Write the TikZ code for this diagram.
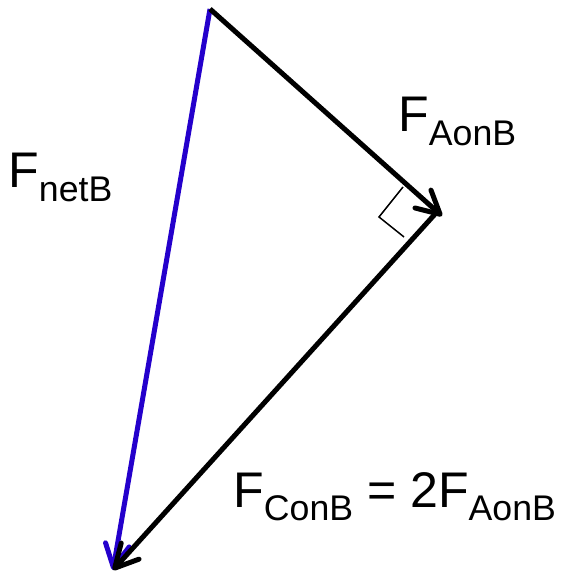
\documentclass[tikz,border=0pt]{standalone}
\usepackage{fontspec}
\setmainfont{Liberation Sans}
\usetikzlibrary{arrows.meta}
\definecolor{netblue}{RGB}{36,0,204}
\newcommand{\forcesub}[1]{\raisebox{-0.27cm}{\fontsize{20.3}{20}\selectfont #1}}

\begin{document}
\begin{tikzpicture}[x=0.02cm, y=-0.02cm,
    >={Straight Barb[length=4.6mm, width=4.8mm, round]},
    force/.style={->, line width=0.1cm},
    lbl/.style={anchor=base west, inner sep=0pt, font=\fontsize{28.5}{30}\selectfont}]
  \useasboundingbox (0,0) rectangle (563,573);
  % corners of the force triangle
  \coordinate (top) at (210,9);
  \coordinate (tipR) at (442,216);
  \coordinate (vtx) at (436,213);
  \coordinate (bot) at (113,570);

  % net force on B
  \draw[force, netblue] (top) -- (bot);
  % forces of A and C on B
  \draw[force] (top) -- (tipR);
  \draw[force] (vtx) -- (bot);
  % right angle
  \draw[line width=0.03cm] (403,187) -- (379,217) -- (404,237);

  % labels
  \node[lbl] (lblAonB) at (398,132) {F\forcesub{AonB}};
  \node[lbl] (lblnetB) at (8,188) {F\forcesub{netB}};
  \node[lbl] (lblConB) at (233,507) {F\forcesub{ConB} = 2F\forcesub{AonB}};
\end{tikzpicture}
\end{document}
